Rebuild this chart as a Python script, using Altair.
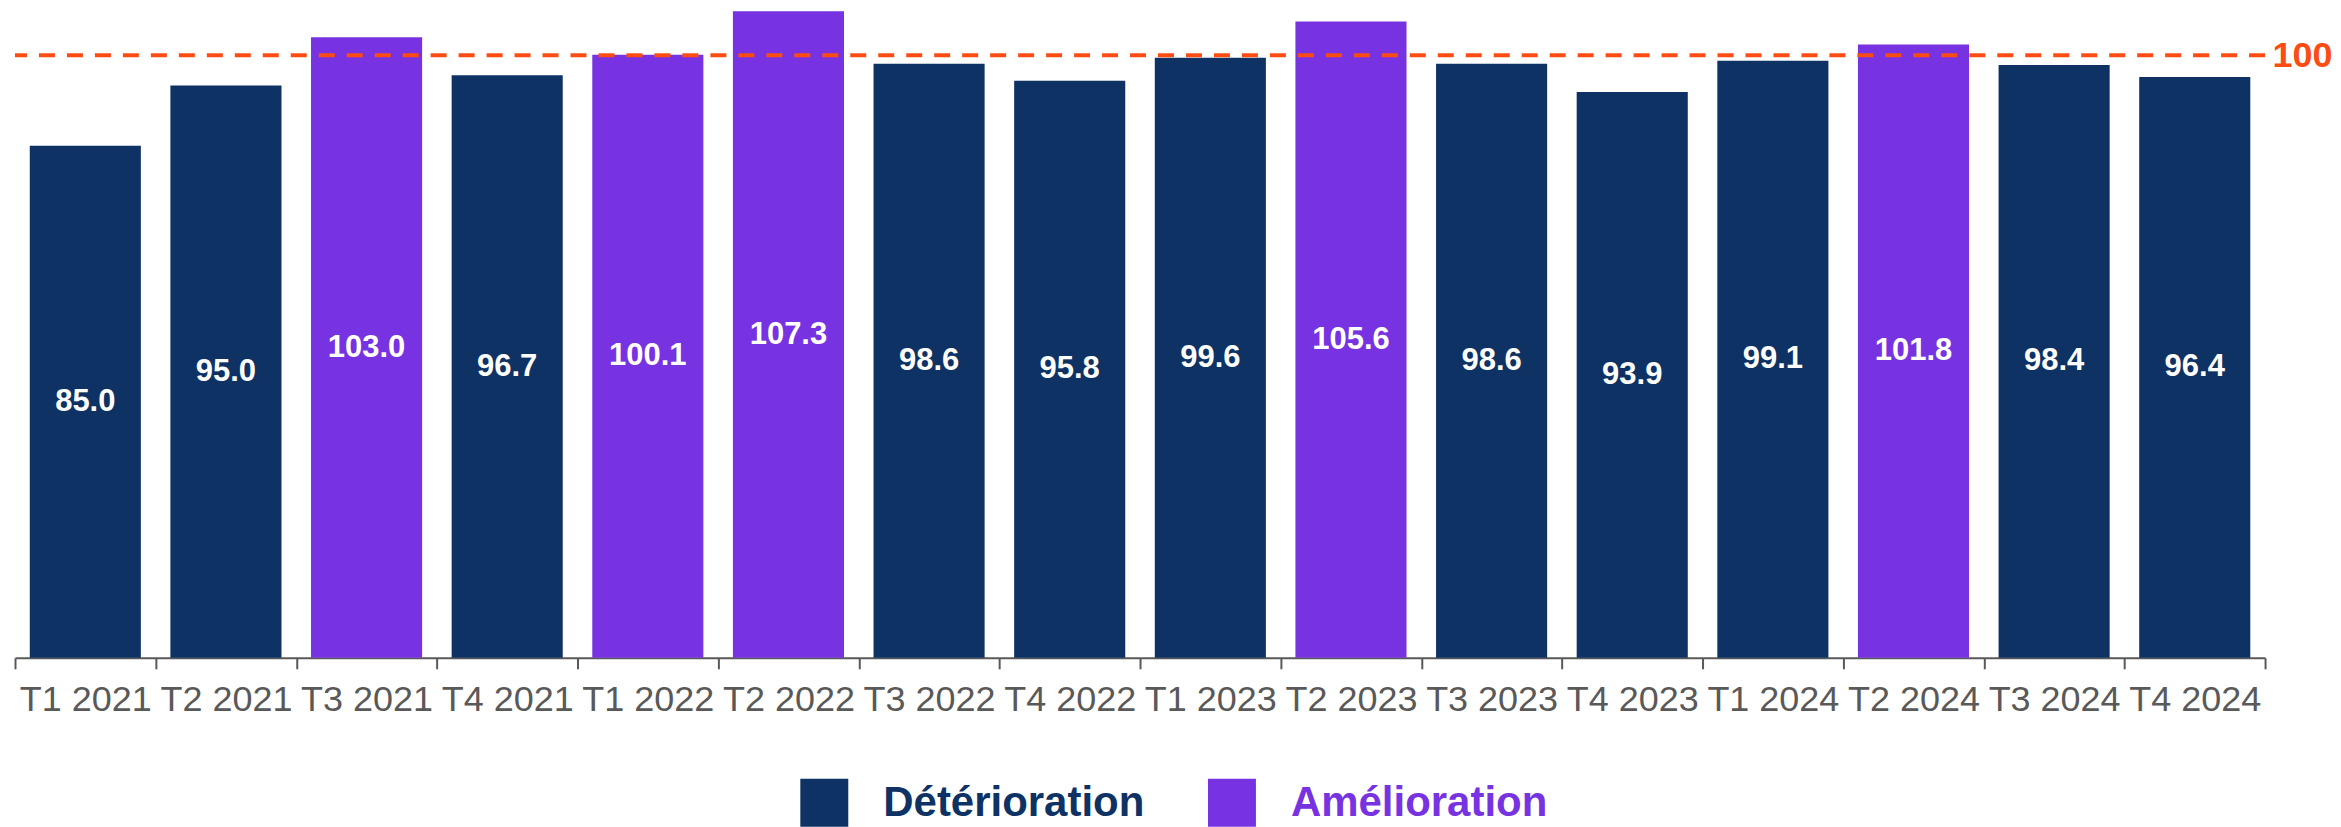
import altair as alt
import pandas as pd

quarters = ["T1 2021", "T2 2021", "T3 2021", "T4 2021",
            "T1 2022", "T2 2022", "T3 2022", "T4 2022",
            "T1 2023", "T2 2023", "T3 2023", "T4 2023",
            "T1 2024", "T2 2024", "T3 2024", "T4 2024"]
values = [85.0, 95.0, 103.0, 96.7, 100.1, 107.3, 98.6, 95.8,
          99.6, 105.6, 98.6, 93.9, 99.1, 101.8, 98.4, 96.4]
categories = ["Détérioration", "Amélioration"]
reference_value = [100]

NAVY = "#0E3264"
PURPLE = "#7733E1"
ORANGE = "#FC4C14"
GRAY = "#595959"
FONT = "Liberation Sans"

df = pd.DataFrame({"trimestre": quarters, "indice": values})
df["statut"] = [categories[1] if v > reference_value[0] else categories[0] for v in values]
df["milieu"] = df["indice"] / 2
df["texte"] = [f"{v:.1f}" for v in values]

ref_df = pd.DataFrame({"ref": reference_value})

x_enc = alt.X(
    "trimestre:N", sort=quarters,
    scale=alt.Scale(paddingInner=0, paddingOuter=0),
    axis=alt.Axis(title=None, labelAngle=0, tickBand="extent",
                  labelFont=FONT, labelFontSize=36, labelColor=GRAY,
                  domainColor=GRAY, tickColor=GRAY, domainWidth=2,
                  tickWidth=2, tickSize=11, labelPadding=14, grid=False),
)

y_scale = alt.Scale(domain=[0, 107.8], nice=False, zero=True)

base = alt.Chart(df)

bars = base.mark_bar(width=alt.RelativeBandSize(0.79)).encode(
    x=x_enc,
    y=alt.Y("indice:Q", scale=y_scale,
            axis=alt.Axis(orient="right", values=reference_value, title=None,
                          domain=False, ticks=False, grid=False,
                          labelFont=FONT, labelFontSize=36, labelFontWeight="bold",
                          labelColor=ORANGE, labelPadding=7, labelBaseline="middle")),
    color=alt.Color(
        "statut:N",
        scale=alt.Scale(domain=categories, range=[NAVY, PURPLE]),
        legend=alt.Legend(
            orient="none", legendX=786, legendY=771,
            direction="horizontal", title=None,
            symbolType="square", symbolSize=2304, symbolStrokeWidth=0,
            symbolOpacity=1, labelFont=FONT, labelFontSize=42,
            labelFontWeight="bold",
            labelColor=alt.ExprRef(expr=f"datum.label == '{categories[1]}' ? '{PURPLE}' : '{NAVY}'"),
            labelOffset=35, columnPadding=63, labelLimit=0,
        ),
    ),
)

labels = base.mark_text(color="white", fontWeight="bold", fontSize=31,
                        font=FONT, baseline="middle", align="center").encode(
    x=alt.X("trimestre:N", sort=quarters),
    y=alt.Y("milieu:Q", scale=y_scale),
    text="texte:N",
)

rule = alt.Chart(ref_df).mark_rule(color=ORANGE, strokeDash=[16, 12], strokeWidth=4).encode(
    y=alt.Y("ref:Q", scale=y_scale),
)

chart = alt.layer(bars, labels, rule).properties(
    width=2252, height=650,
    padding={"left": 5, "top": 0, "right": 0, "bottom": 0},
).configure_view(stroke=None).configure_axis(grid=False)

chart.save("out.html", embed_options={"renderer": "svg", "actions": False})
